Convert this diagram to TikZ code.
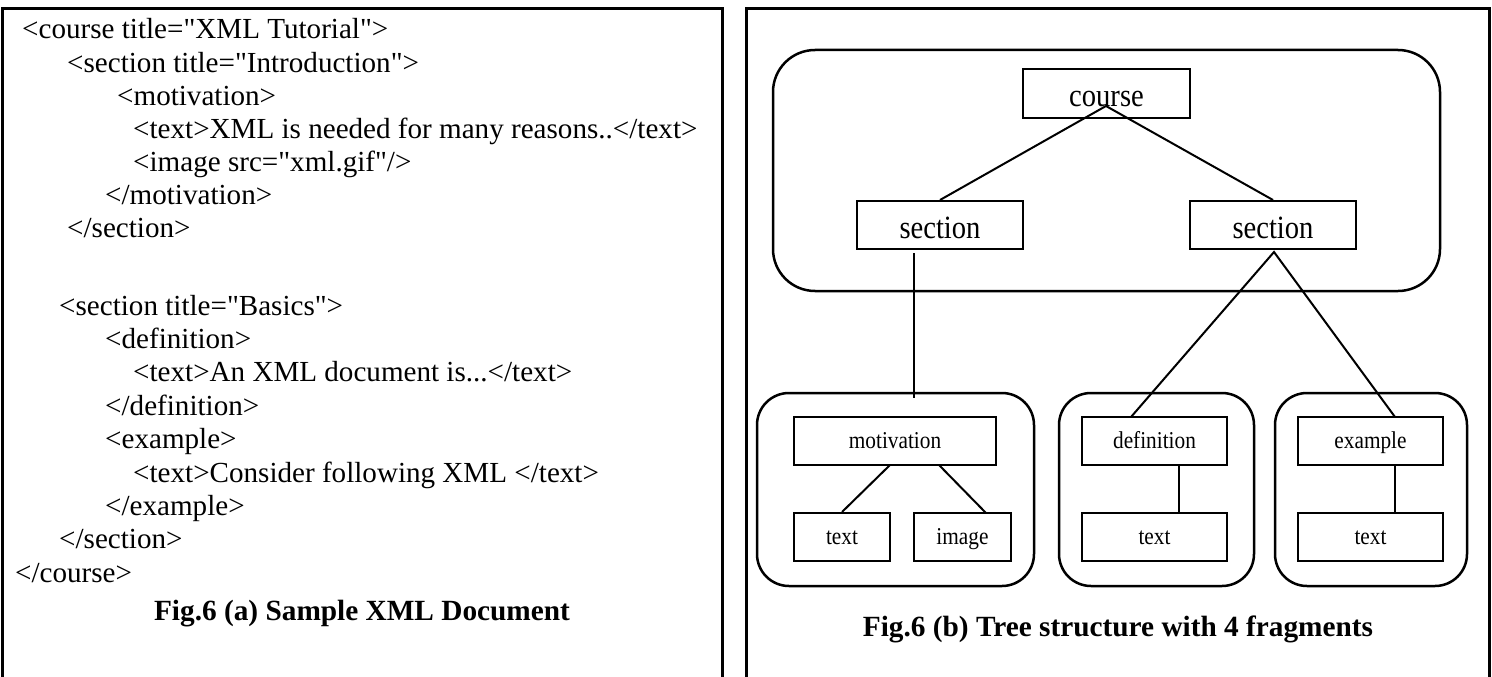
\documentclass[tikz,border=0pt]{standalone}
\usepackage{fontspec}
\setmainfont{Liberation Serif}[Ligatures=TeXOff]
\newfontfamily\treefont{Liberation Serif}[FakeStretch=0.88]
\usetikzlibrary{calc}
\begin{document}
\begin{tikzpicture}[x=1pt,y=-1pt,
  panel/.style={line width=3pt},
  code/.style={anchor=base west, inner sep=0pt, font=\fontsize{29.1}{34}\selectfont},
  figcaption/.style={anchor=base, inner sep=0pt, font=\fontsize{29.3}{34}\selectfont\bfseries},
  bigbox/.style={draw, line width=2pt, inner sep=0pt, text height=26pt, text depth=0pt, font=\treefont\fontsize{32.5}{38}\selectfont},
  smallbox/.style={draw, line width=2pt, inner sep=0pt, text height=14pt, text depth=0pt, font=\treefont\fontsize{24.2}{28}\selectfont},
  frag/.style={draw, line width=2.5pt, rounded corners=32pt, inner sep=0pt},
  link/.style={line width=2pt}]
\useasboundingbox (0,0) rectangle (1492,677);

% panel borders
\coordinate (aBL) at (2,677); \coordinate (aTL) at (2,9);
\coordinate (aTR) at (722,9); \coordinate (aBR) at (722,677);
\coordinate (bBL) at (746,677); \coordinate (bTL) at (746,9);
\coordinate (bTR) at (1489,9); \coordinate (bBR) at (1489,677);
\draw[panel] (aBL) -- (aTL) -- (aTR) -- (aBR);
\draw[panel] (bBL) -- (bTL) -- (bTR) -- (bBR);

% XML code
\node[code] (l1)  at (22,39)    {<course title="XML Tutorial">};
\node[code] (l2)  at (67,72.1)  {<section title="Introduction">};
\node[code] (l3)  at (117,105.2){<motivation>};
\node[code] (l4)  at (133,138.3){<text>XML is needed for many reasons..</text>};
\node[code] (l5)  at (133,171.4){<image src="xml.gif"/>};
\node[code] (l6)  at (105,204.5){</motivation>};
\node[code] (l7)  at (67,237.6) {</section>};
\node[code] (l8)  at (59,315)   {<section title="Basics">};
\node[code] (l9)  at (105,348.4){<definition>};
\node[code] (l10) at (133,381.8){<text>An XML document is...</text>};
\node[code] (l11) at (105,415.2){</definition>};
\node[code] (l12) at (105,448.6){<example>};
\node[code] (l13) at (133,482)  {<text>Consider following XML </text>};
\node[code] (l14) at (105,515.4){</example>};
\node[code] (l15) at (59,548.8) {</section>};
\node[code] (l16) at (15,582.2) {</course>};
\node[figcaption] (capa) at (362,620) {Fig.6 (a) Sample XML Document};

% tree: top fragment
\node[frag, rounded corners=42pt, minimum width=667pt, minimum height=241pt] (outer) at (1106.5,170.5) {};
\node[bigbox, minimum width=167pt, minimum height=49pt] (course) at (1106.5,93.5) {course};
\node[bigbox, minimum width=166pt, minimum height=48pt] (secL) at (940,225) {section};
\node[bigbox, minimum width=166pt, minimum height=48pt] (secR) at (1273,225) {section};

% lower fragments
\node[frag, minimum width=277pt, minimum height=193pt] (frag1) at (895.5,489.5) {};
\node[frag, minimum width=195pt, minimum height=193pt] (frag2) at (1156.5,489.5) {};
\node[frag, minimum width=192pt, minimum height=193pt] (frag3) at (1371,489.5) {};

\node[smallbox, minimum width=202pt, minimum height=48pt] (mot) at (895,441) {motivation};
\node[smallbox, minimum width=96pt, minimum height=48pt] (txt1) at (842,537) {text};
\node[smallbox, minimum width=97pt, minimum height=48pt] (img) at (962.5,537) {image};
\node[smallbox, minimum width=145pt, minimum height=48pt] (def) at (1154.5,441) {definition};
\node[smallbox, minimum width=145pt, minimum height=48pt] (txt2) at (1154.5,537) {text};
\node[smallbox, minimum width=145pt, minimum height=48pt] (ex) at (1370.5,441) {example};
\node[smallbox, minimum width=145pt, minimum height=48pt] (txt3) at (1370.5,537) {text};

% connectors
\coordinate (cj) at (1106,106);
\draw[link] (secL.north) -- (cj) -- (secR.north);
\coordinate (sLtop) at (914,253);
\coordinate (sLend) at (914,398);
\draw[link] (sLtop) -- (sLend);
\coordinate (sRj) at (1274,252);
\coordinate (defin) at (1131,417);
\coordinate (exin) at (1395,417);
\draw[link] (defin) -- (sRj) -- (exin);
\coordinate (m1) at (890,465);
\coordinate (m2) at (939,465);
\coordinate (i2) at (986,513);
\draw[link] (m1) -- (txt1.north);
\draw[link] (m2) -- (i2);
\coordinate (d1) at (1179,465); \coordinate (d2) at (1179,513);
\draw[link] (d1) -- (d2);
\coordinate (e1) at (1395,465); \coordinate (e2) at (1395,513);
\draw[link] (e1) -- (e2);

\node[figcaption] (capb) at (1118,636) {Fig.6 (b) Tree structure with 4 fragments};
\end{tikzpicture}
\end{document}
